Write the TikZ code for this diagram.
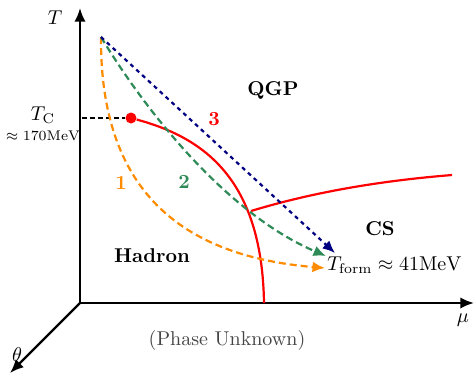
\documentclass[tikz,border=0pt]{standalone}
\usepackage{amsmath,amssymb}
\usetikzlibrary{arrows.meta,positioning,calc}
\definecolor{Tangerine}{HTML}{FF8C00}
\definecolor{SeaGreen}{HTML}{2E8B57}
\definecolor{DeepNavy}{HTML}{000080}
\definecolor{PhaseRed}{HTML}{FF0000}
\definecolor{Ash}{HTML}{444444}

\begin{document}
\begin{tikzpicture}[
  x=0.5pt,y=-0.5pt,
  axis/.style={-{Latex[length=2.4mm,width=2mm]},very thick,color=black},
  boundary/.style={line width=1.1pt,color=PhaseRed},
  path1/.style={-{Latex[length=2.2mm,width=1.9mm]},line width=1.1pt,dash pattern=on 3.5pt off 2pt,color=Tangerine},
  path2/.style={-{Latex[length=2.2mm,width=1.9mm]},line width=1.1pt,dash pattern=on 3.5pt off 2pt,color=SeaGreen},
  path3/.style={-{Latex[length=2.2mm,width=1.9mm]},line width=1.1pt,dash pattern=on 2pt off 2pt,color=DeepNavy},
  phase/.style={font=\bfseries},
  tag/.style={font=\bfseries}
]
\useasboundingbox (0,0) rectangle (474,377);
% axes
\coordinate (O) at (80,303);
\coordinate (Ttip) at (80,8);
\coordinate (mutip) at (474,303);
\coordinate (thtip) at (10,373);
\draw[axis] (O) -- (Ttip);
\draw[axis] (O) -- (mutip);
\draw[axis] (O) -- (thtip);
\node (Tlab) at (55,18) {$T$};
\node (mulab) at (463,320) {$\mu$};
\node (thlab) at (17,355) {$\theta$};
% critical point
\node[circle,fill=PhaseRed,inner sep=0pt,minimum size=5.5pt] (cp) at (131,118) {};
\coordinate (tcaxis) at (82,118);
\draw[very thick,dash pattern=on 2.5pt off 1.5pt] (tcaxis) -- (cp);
\node (tc) at (43,115) {$T_{\mathrm{C}}$};
\node[font=\fontsize{7.5}{9}\selectfont,below=-1.2mm of tc] (tcval) {$\approx 170\mathrm{MeV}$};
% phase boundaries
\coordinate (J) at (251,211);
\coordinate (bend) at (264,303);
\coordinate (csend) at (452,175);
\draw[boundary] (cp) .. controls (205,138) and (262,180) .. (bend);
\draw[boundary] (J) .. controls (320,190) and (390,180) .. (csend);
% cooling paths
\coordinate (S) at (101,37);
\node[anchor=base west,inner sep=0pt] (tform) at (327,270) {$T_{\mathrm{form}} \approx 41\mathrm{MeV}$};
\coordinate (e1) at (325,268);
\coordinate (e2) at (326,256);
\coordinate (e3) at (335,253);
\draw[path1] (S) .. controls (100,180) and (170,255) .. (e1);
\draw[path2] (S) .. controls (150,118) and (230,215) .. (e2);
\draw[path3] (S) -- (e3);
\node[tag,text=Tangerine] (n1) at (121,183) {1};
\node[tag,text=SeaGreen] (n2) at (184,182) {2};
\node[tag,text=PhaseRed] (n3) at (214,119) {3};
% phases
\node[phase] (qgp) at (273,90) {QGP};
\node[phase] (cs) at (380,229) {CS};
\node[phase] (hadron) at (152,256) {Hadron};
\node[text=Ash] (unknown) at (227,340) {(Phase Unknown)};
\end{tikzpicture}
\end{document}
